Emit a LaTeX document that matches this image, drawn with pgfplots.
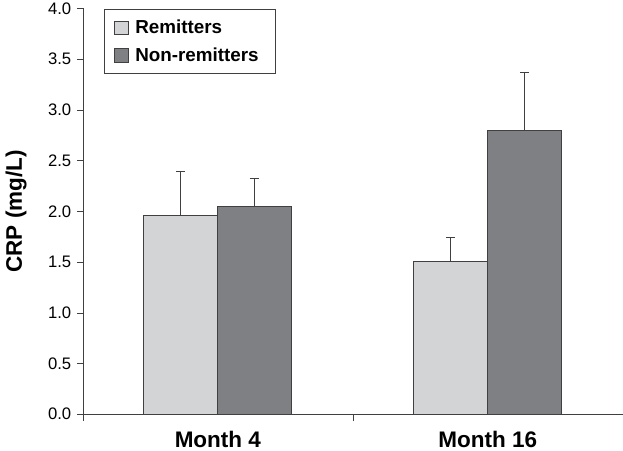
\documentclass[border=0pt]{standalone}
\usepackage{fontspec}
\setmainfont{Liberation Sans}
\usepackage{pgfplots}
\pgfplotsset{compat=1.18}

\definecolor{remit}{HTML}{D3D4D6}
\definecolor{nonremit}{HTML}{7F8083}
\definecolor{edge}{HTML}{404040}

\begin{document}
\begin{tikzpicture}
\begin{axis}[
    scale only axis,
    width=324pt, height=243.6pt,
    ybar=0pt, bar width=0.274,
    xmin=-0.5, xmax=1.5,
    ymin=0, ymax=4,
    axis x line=bottom, axis y line=left,
    axis line style={edge, -},
    xtick={0,1},
    xticklabels={Month 4, Month 16},
    major x tick style={draw=none},
    minor xtick={-0.5,0.5,1.5},
    minor x tick style={edge},
    minor tick length=4pt,
    ytick={0,0.5,...,4},
    major tick length=3.5pt,
    tick align=outside,
    ytick style={edge},
    xticklabel style={font=\bfseries\fontsize{13.5}{15}\selectfont, inner ysep=1.5pt, yshift=-5pt},
    yticklabel style={font=\fontsize{10}{12}\selectfont, inner ysep=1.5pt},
    /pgf/number format/assume math mode=true,
    /pgf/number format/.cd, fixed, fixed zerofill, precision=1, /pgfplots/.cd,
    ylabel={CRP (mg/L)},
    ylabel style={font=\bfseries\fontsize{13.5}{15}\selectfont, yshift=6pt},
    legend style={at={(0.039,0.998)}, anchor=north west, draw=edge, line width=0.6pt,
        font=\bfseries\fontsize{11.3}{13}\selectfont, inner xsep=6pt, inner ysep=4pt,
        row sep=3pt, nodes={inner xsep=4pt}},
    legend cell align=left,
    legend image code/.code={\draw[#1, draw=edge, line width=0.5pt] (0pt,-4pt) rectangle (8pt,4pt);},
    error bars/error bar style={edge, line width=0.7pt},
    error bars/error mark options={edge, line width=0.7pt, mark size=2.7pt, rotate=90},
]
\addplot[fill=remit, draw=edge, line width=0.5pt,
    error bars/.cd, y dir=plus, y explicit]
    coordinates {(0,1.96) +- (0,0.43) (1,1.51) +- (0,0.23)};
\addplot[fill=nonremit, draw=edge, line width=0.5pt,
    error bars/.cd, y dir=plus, y explicit]
    coordinates {(0,2.05) +- (0,0.27) (1,2.80) +- (0,0.57)};
\legend{Remitters, Non-remitters}
\end{axis}
\end{tikzpicture}
\end{document}
